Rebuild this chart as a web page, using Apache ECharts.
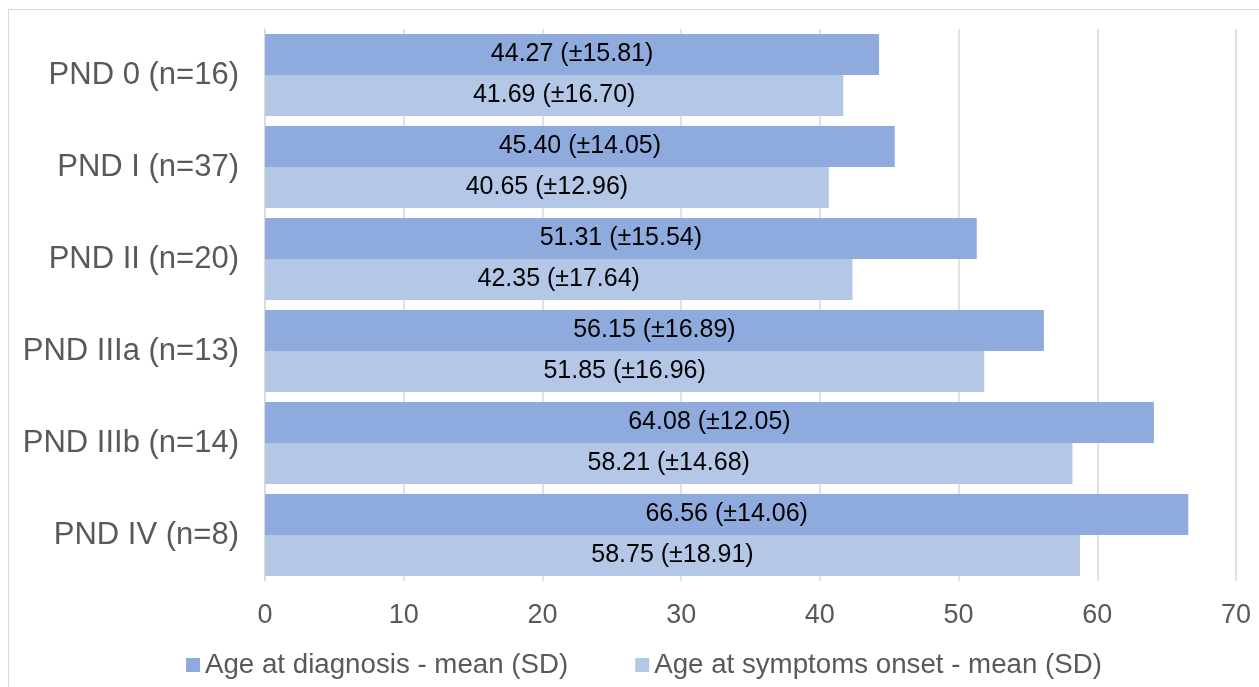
<!DOCTYPE html>
<html>
<head>
<meta charset="utf-8">
<script src="https://cdn.jsdelivr.net/npm/echarts@6/dist/echarts.min.js"></script>
<style>
html,body{margin:0;padding:0;background:#fff;}
#wrap{position:relative;width:1259px;height:687px;overflow:hidden;}
#frame{position:absolute;left:8px;top:9px;width:1300px;height:700px;border:1.5px solid #d9d9d9;box-sizing:border-box;}
#chart{position:absolute;left:0;top:0;width:1259px;height:687px;}
</style>
</head>
<body>
<div id="wrap">
<div id="frame"></div>
<div id="chart"></div>
</div>
<script>
const categories = ['PND 0 (n=16)', 'PND I (n=37)', 'PND II (n=20)', 'PND IIIa (n=13)', 'PND IIIb (n=14)', 'PND IV (n=8)'];
const diagnosisMean = [44.27, 45.40, 51.31, 56.15, 64.08, 66.56];
const diagnosisSD = [15.81, 14.05, 15.54, 16.89, 12.05, 14.06];
const onsetMean = [41.69, 40.65, 42.35, 51.85, 58.21, 58.75];
const onsetSD = [16.70, 12.96, 17.64, 16.96, 14.68, 18.91];
const xTicks = [0, 10, 20, 30, 40, 50, 60, 70];
const seriesNames = ['Age at diagnosis - mean (SD)', 'Age at symptoms onset - mean (SD)'];

const chart = echarts.init(document.getElementById('chart'), null, {renderer: 'canvas'});
const font = 'Liberation Sans, Arial, sans-serif';
function lbl(sds) {
  return {
    show: true, position: 'inside', color: '#000', fontSize: 25, fontFamily: font,
    formatter: p => p.value.toFixed(2) + ' (±' + sds[p.dataIndex].toFixed(2) + ')'
  };
}
chart.setOption({
  animation: false,
  grid: {left: 265, right: 23, top: 29, bottom: 106, containLabel: false},
  xAxis: {
    type: 'value', min: xTicks[0], max: xTicks[xTicks.length - 1], interval: 10,
    axisLine: {show: false}, axisTick: {show: false},
    axisLabel: {color: '#595959', fontSize: 27, fontFamily: font, margin: 21},
    splitLine: {show: true, lineStyle: {color: '#d9d9d9', width: 1.5}}
  },
  yAxis: {
    type: 'category', data: categories, inverse: true,
    axisLine: {show: true, lineStyle: {color: '#d9d9d9', width: 1.5}},
    axisTick: {show: false},
    axisLabel: {color: '#595959', fontSize: 31, fontFamily: font, margin: 26}
  },
  legend: {
    data: seriesNames, left: 181, top: 646, itemWidth: 14, itemHeight: 14, itemGap: 67,
    icon: 'rect',
    textStyle: {color: '#595959', fontSize: 27.7, fontFamily: font, padding: [0, 0, 0, 0]}
  },
  series: [
    {name: seriesNames[0], type: 'bar', data: diagnosisMean, barGap: '0%', barCategoryGap: '11%',
     itemStyle: {color: '#8FAADC'}, label: lbl(diagnosisSD)},
    {name: seriesNames[1], type: 'bar', data: onsetMean, barGap: '0%', barCategoryGap: '11%',
     itemStyle: {color: '#B4C7E7'}, label: lbl(onsetSD)}
  ]
});
</script>
</body>
</html>
